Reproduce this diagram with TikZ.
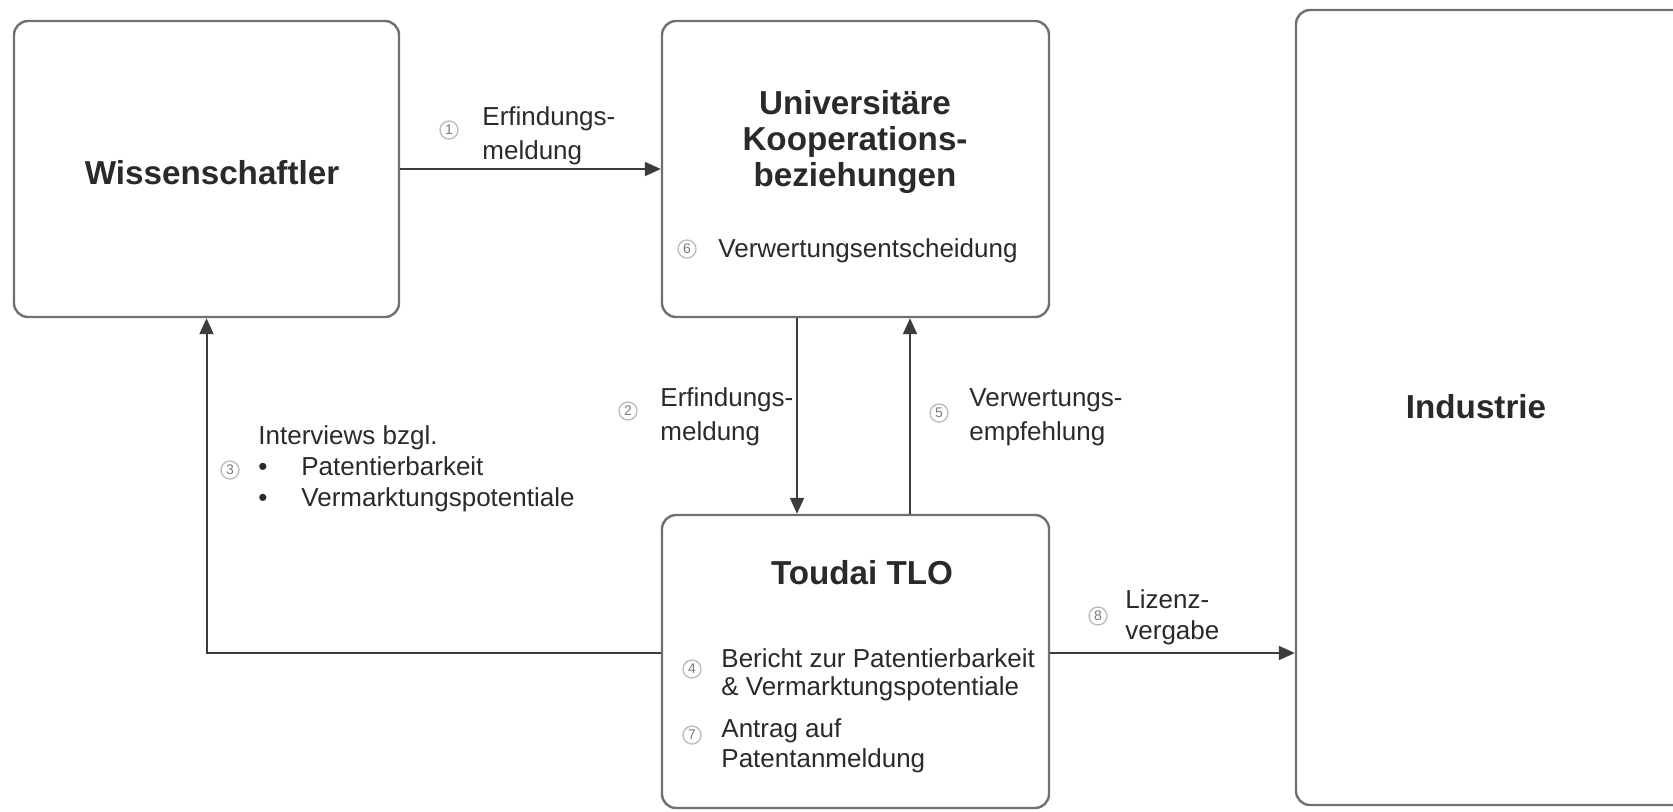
\documentclass[tikz,border=0pt]{standalone}
\usepackage{fontspec}
\setmainfont{Liberation Sans}
\usetikzlibrary{arrows.meta}

\definecolor{boxgray}{HTML}{707070}
\definecolor{linegray}{HTML}{3C3C3C}
\definecolor{textgray}{HTML}{2A2A2A}
\definecolor{numline}{HTML}{BDBDBD}
\definecolor{numtext}{HTML}{7A7A7A}

\begin{document}
\begin{tikzpicture}[x=0.5pt, y=-0.5pt,
    box/.style={draw=boxgray, line width=1.2pt, rounded corners=7pt, fill=white, inner sep=0pt},
    titletxt/.style={font=\fontsize{16.6}{18}\selectfont\bfseries, text=textgray, align=center, inner sep=0pt, anchor=base},
    lbl/.style={font=\fontsize{13}{17}\selectfont, text=textgray, align=left, inner sep=0pt, anchor=base west},
    num/.style={circle, draw=numline, line width=0.7pt, text=numtext, font=\fontsize{7}{8}\selectfont, inner sep=0pt, minimum size=9pt},
    flow/.style={draw=linegray, line width=1pt, -{Triangle[length=8pt,width=7pt]}}]

    % Picture frame
    \useasboundingbox (0,0) rectangle (1673,811);

    % Boxes
    \node[box, minimum width=192.5pt, minimum height=148pt] (wiss) at (206.5,169) {};
    \node[box, minimum width=193.5pt, minimum height=148pt] (univ) at (855.5,169) {};
    \node[box, minimum width=193.5pt, minimum height=146.5pt] (tlo) at (855.5,661.5) {};
    \node[box, minimum width=210pt, minimum height=397.5pt] (ind) at (1506,407.5) {};

    % Titles (multi-line: placed at last baseline)
    \node[titletxt] (wisstitle) at (212,184) {Wissenschaftler};
    \node[titletxt] (univtitle) at (855,186) {Universitäre\\Kooperations-\\beziehungen};
    \node[titletxt] (tlotitle) at (862,584) {Toudai TLO};
    \node[titletxt] (indtitle) at (1476,418) {Industrie};

    % Levels for the connectors
    \coordinate (xdown) at (797,0);
    \coordinate (xup) at (910,0);
    \coordinate (ylvl) at (0,653);

    % Connectors
    \draw[flow] (wiss.east) -- (univ.west);
    \draw[flow] (univ.south -| xdown) -- (tlo.north -| xdown);
    \draw[flow] (tlo.north -| xup) -- (univ.south -| xup);
    \draw[flow] (tlo.west |- ylvl) -| (wiss.south);
    \draw[flow] (tlo.east |- ylvl) -- (ind.west |- ylvl);

    % Step numbers
    \node[num] (n1) at (449,130) {1};
    \node[num] (n2) at (628,411) {2};
    \node[num] (n3) at (230,470) {3};
    \node[num] (n4) at (692,669) {4};
    \node[num] (n5) at (939,413) {5};
    \node[num] (n6) at (687,249) {6};
    \node[num] (n7) at (692,735) {7};
    \node[num] (n8) at (1098,616) {8};

    % Step labels
    \node[lbl] (l1) at (482,159) {Erfindungs-\\meldung};
    \node[lbl] (l2) at (660,440) {Erfindungs-\\meldung};
    \node[lbl, font=\fontsize{13}{15.5}\selectfont] (l3) at (258,506)
        {Interviews bzgl.\\\makebox[21.5pt][l]{\textbullet}Patentierbarkeit\\\makebox[21.5pt][l]{\textbullet}Vermarktungspotentiale};
    \node[lbl, font=\fontsize{13}{14}\selectfont] (l4) at (721,695) {Bericht zur Patentierbarkeit\\\& Vermarktungspotentiale};
    \node[lbl] (l5) at (969,440) {Verwertungs-\\empfehlung};
    \node[lbl] (l6) at (718,257) {Verwertungsentscheidung};
    \node[lbl, font=\fontsize{13}{15}\selectfont] (l7) at (721,767) {Antrag auf\\Patentanmeldung};
    \node[lbl, font=\fontsize{13}{15.5}\selectfont] (l8) at (1125,639) {Lizenz-\\vergabe};

\end{tikzpicture}
\end{document}
